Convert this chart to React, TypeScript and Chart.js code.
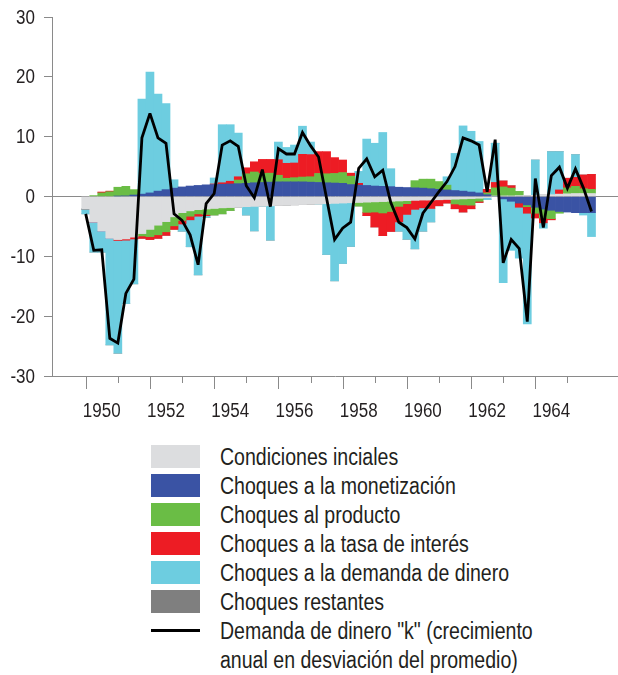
import React, { useEffect, useRef } from 'react';
import { Chart, registerables } from 'chart.js';
Chart.register(...registerables);

// ---- categories ----
const years = [1950, 1951, 1952, 1953, 1954, 1955, 1956, 1957, 1958, 1959, 1960, 1961, 1962, 1963, 1964, 1965];
const quarterNames = ['T1', 'T2', 'T3', 'T4'];
const periods = years.flatMap((y) => quarterNames.map((q) => `${y}-${q}`));
const labelYears = ['1950', '1952', '1954', '1956', '1958', '1960', '1962', '1964'];
const yTicks = [-30, -20, -10, 0, 10, 20, 30];

// ---- series (quarterly, 1950T1 .. 1965T4) ----
const condicionesIniciales = [
  -2.1, -4.3, -5.8, -7.0, -7.2, -7.1, -6.8, -6.2, -5.5, -4.8,
  -4.2, -3.4, -2.7, -2.4, -2.2, -2.1, -2.0, -1.9, -1.85, -1.8,
  -1.7, -1.65, -1.6, -1.55, -1.5, -1.45, -1.4, -1.35, -1.3, -1.25,
  -1.2, -1.15, -1.1, -1.05, -1.0, -0.95, -0.9, -0.85, -0.8, -0.75,
  -0.7, -0.65, -0.6, -0.6, -0.55, -0.5, -0.45, -0.4, -0.35, -0.3,
  -0.2, 0.05, 0.1, 0.1, 0.15, 0.15, 0.2, 0.25, 0.3, 0.4,
  0.45, 0.5, 0.5, 0.5,
];
const monetizacion = [
  0, 0, 0, 0, 0.05, 0.1, 0.25, 0.4, 0.6, 0.9,
  1.15, 1.4, 1.6, 1.75, 1.85, 1.95, 2.0, 2.05, 2.1, 2.15,
  2.2, 2.3, 2.35, 2.4, 2.45, 2.45, 2.45, 2.45, 2.4, 2.35,
  2.3, 2.25, 2.2, 2.0, 1.9, 1.85, 1.75, 1.7, 1.65, 1.55,
  1.5, 1.45, 1.4, 1.3, 1.2, 1.1, 1.0, 0.9, 0.75, 0.6,
  0.3, 0.0, -0.4, -0.8, -1.1, -1.4, -1.8, -2.1, -2.3, -2.5,
  -2.6, -2.7, -2.7, -2.7,
];
const producto = [
  0, 0.15, 0.6, 0.8, 1.5, 1.6, 0.9, -0.4, -1.2, -1.6,
  -1.7, -1.5, -1.3, -0.9, -0.7, -0.9, -1.1, -1.0, -0.5, 0.6,
  1.6, 1.8, 1.5, 1.5, 1.1, 0.6, 0.7, 0.8, 0.9, 1.5,
  1.5, 1.6, 1.8, 1.4, -0.6, -1.7, -1.7, -1.9, -1.7, -0.9,
  -0.5, 1.2, 1.5, 1.6, 1.3, 0.8, -0.8, -1.0, -1.1, -0.5,
  0.3, 1.4, 1.5, 1.3, 0.7, -0.3, -1.0, -1.5, -1.4, -0.3,
  1.0, 1.2, 0.8, 0.7,
];
const tasaInteres = [
  0, 0, 0.15, 0.1, -0.15, -0.2, -0.3, -0.4, -0.5, -0.6,
  -0.6, -0.6, -0.6, -0.6, -0.4, -0.2, 0.1, 0.25, 0.45, 0.55,
  1.0, 1.7, 2.35, 2.3, 2.6, 2.5, 2.45, 3.8, 3.7, 3.65,
  3.7, 2.65, 2.1, 0.5, 0.3, -0.55, -2.5, -3.8, -3.35, -2.6,
  -1.8, -1.5, -1.3, -1.4, -1.0, -0.6, -0.8, -1.2, -0.6, -0.2,
  0.6, 0.9, 1.0, 0.4, -0.7, -1.1, -0.8, -0.8, -0.2, 0.7,
  1.6, 1.5, 2.3, 2.5,
];
const demandaDinero = [
  -0.8, -5.0, -3.5, -17.8, -18.85, -10.6, -7.5, 15.9, 20.2, 16.2,
  14.4, 1.4, -1.2, -4.5, -9.8, -0.3, 1.0, 9.7, 9.45, 7.3,
  -1.4, -4.1, 0, -5.75, 2.95, 2.65, 3.0, 4.7, 2.1, 0,
  -8.5, -12.95, -10.1, -7.3, 2.0, 7.75, 7.15, 9.0, 3.0, -1.55,
  -4.15, -6.6, -3.9, -2.25, 0, 1.4, 6.2, 10.9, 10.15, 8.6,
  -0.3, 6.55, -14.0, -8.2, -8.5, -18.5, 5.9, -0.9, 7.2, 6.4,
  0, 3.8, -0.4, -4.0,
];
const restantes = [
  0, 0, 0, 0, 0, 0, 0, 0, 0, 0,
  0, 0, 0, 0, 0, 0, 0, 0, 0, 0,
  0, 0, 0, 0, 0, 0, 0, 0, 0, 0,
  0, 0, 0, 0, 0, 0, 0, 0, 0, 0,
  0, 0, 0, 0, 0, 0, 0, 0, 0, 0,
  0, 0, 0, 0, 0, 0, 0, 0, 0, 0,
  0, 0, 0, 0,
];
const demandaK = [
  -2.9, -9.0, -8.9, -23.7, -24.5, -16.2, -13.8, 9.8, 13.9, 9.8,
  8.9, -2.9, -4.0, -6.4, -11.4, -1.2, 0.5, 8.6, 9.3, 8.4,
  1.8, -0.2, 4.5, -1.7, 8.0, 7.1, 7.1, 10.7, 8.5, 6.6,
  -0.3, -7.2, -5.3, -4.3, 4.7, 6.3, 3.3, 4.4, -1.0, -4.3,
  -5.2, -7.1, -2.8, -1.0, 0.8, 2.5, 5.0, 9.8, 9.3, 8.6,
  0.8, 9.5, -11.1, -7.2, -8.7, -20.9, 3.0, -5.2, 3.5, 4.9,
  1.4, 4.6, 1.4, -2.5,
];

const seriesLabels = [
  'Condiciones inciales',
  'Choques a la monetización',
  'Choques al producto',
  'Choques a la tasa de interés',
  'Choques a la demanda de dinero',
  'Choques restantes',
];
const lineLabel = ['Demanda de dinero "k" (crecimiento', 'anual en desviación del promedio)'];
const seriesData = [condicionesIniciales, monetizacion, producto, tasaInteres, demandaDinero, restantes];
const seriesColors = ['#dcdddf', '#3a53a4', '#6abd45', '#ed1c24', '#6dcde0', '#7f7f7f'];

const AXIS = '#8a8a8a';
const TEXT = '#231f20';
const FAMILY = '"Liberation Sans", Arial, sans-serif';
const SQUEEZE = 0.85;

export default function App() {
  const ref = useRef<HTMLCanvasElement>(null);

  useEffect(() => {
    if (!ref.current) return;
    const tickFont = `20px ${FAMILY}`;

    const miterPlugin = {
      id: 'miterLimit',
      beforeDatasetsDraw(chart: any) {
        chart.ctx.miterLimit = 3;
      },
    };

    const axisTextPlugin = {
      id: 'axisText',
      afterDraw(chart: any) {
        const { ctx, chartArea } = chart;
        const x = chart.scales.x;
        const y = chart.scales.y;
        ctx.save();
        ctx.strokeStyle = AXIS;
        ctx.lineWidth = 1;
        years.forEach((yr, k) => {
          const idx = periods.indexOf(`${yr}-T1`);
          const px = Math.round(x.getPixelForValue(idx)) + 0.5;
          const len = k % 2 === 0 ? 13 : 7;
          ctx.beginPath();
          ctx.moveTo(px, chartArea.bottom);
          ctx.lineTo(px, chartArea.bottom + len);
          ctx.stroke();
        });
        ctx.fillStyle = TEXT;
        ctx.font = tickFont;
        ctx.textBaseline = 'alphabetic';
        ctx.textAlign = 'center';
        labelYears.forEach((lbl) => {
          const idx = periods.indexOf(`${lbl}-T3`);
          ctx.save();
          ctx.translate(x.getPixelForValue(idx), chartArea.bottom + 41);
          ctx.scale(SQUEEZE, 1);
          ctx.fillText(lbl, 0, 0);
          ctx.restore();
        });
        ctx.textAlign = 'right';
        ctx.textBaseline = 'middle';
        yTicks.forEach((v) => {
          ctx.save();
          ctx.translate(y.left + 35, y.getPixelForValue(v) + 1);
          ctx.scale(SQUEEZE, 1);
          ctx.fillText(String(v), 0, 0);
          ctx.restore();
        });
        ctx.restore();
      },
    };

    const barSets = seriesData.map((arr, k) => ({
      type: 'bar' as const,
      label: seriesLabels[k],
      data: periods.map((p, i) => ({ x: i, y: arr[i] })),
      backgroundColor: seriesColors[k],
      borderWidth: 0,
      barPercentage: 1,
      categoryPercentage: 1,
      stack: 'bars',
      order: 1,
    }));

    const chart = new Chart(ref.current, {
      type: 'bar',
      data: {
        datasets: [
          ...barSets,
          {
            type: 'line' as const,
            label: lineLabel.join(' '),
            data: periods.map((p, i) => ({ x: i, y: demandaK[i] })),
            borderColor: '#000000',
            borderWidth: 2.8,
            pointRadius: 0,
            tension: 0,
            borderJoinStyle: 'miter',
            stack: 'line',
            order: 0,
          } as any,
        ],
      },
      options: {
        animation: false,
        responsive: false,
        devicePixelRatio: 1,
        layout: { padding: { top: 17, right: 0, bottom: 64, left: 0 } },
        plugins: { legend: { display: false }, tooltip: { enabled: false } },
        scales: {
          x: {
            type: 'linear',
            min: -4.2,
            max: 66.3,
            offset: false,
            stacked: true,
            grid: { display: true, color: 'rgba(0,0,0,0)', drawTicks: false, offset: false },
            border: { display: true, color: AXIS, width: 1 },
            ticks: { display: false },
          },
          y: {
            stacked: true,
            min: -30,
            max: 30,
            afterBuildTicks: (scale: any) => {
              scale.ticks = yTicks.map((v) => ({ value: v }));
            },
            afterFit: (scale: any) => {
              scale.width = 52;
            },
            ticks: { display: false },
            grid: {
              drawOnChartArea: true,
              color: (ctx: any) => (ctx.tick && ctx.tick.value === 0 ? AXIS : 'rgba(0,0,0,0)'),
              tickColor: AXIS,
              tickLength: 8,
            },
            border: { display: true, color: AXIS, width: 1 },
          },
        },
      } as any,
      plugins: [miterPlugin, axisTextPlugin],
    });
    return () => chart.destroy();
  }, []);

  const textStyle: React.CSSProperties = {
    position: 'absolute',
    left: 220,
    fontFamily: FAMILY,
    fontSize: 23,
    lineHeight: '29px',
    color: TEXT,
    whiteSpace: 'nowrap',
    transformOrigin: 'left top',
    transform: `scaleX(${SQUEEZE})`,
  };

  return (
    <div style={{ position: 'absolute', left: 0, top: 0, width: 618, height: 675, background: '#ffffff', overflow: 'hidden' }}>
      <canvas ref={ref} width={618} height={440} style={{ position: 'absolute', left: 0, top: 0, width: 618, height: 440 }} />
      {seriesLabels.map((lbl, k) => (
        <React.Fragment key={lbl}>
          <div style={{ position: 'absolute', left: 151, top: 445 + 29 * k, width: 49, height: 23, background: seriesColors[k] }} />
          <div style={{ ...textStyle, top: 442.5 + 29 * k }}>{lbl}</div>
        </React.Fragment>
      ))}
      <div style={{ position: 'absolute', left: 151, top: 445 + 29 * 6 + 10, width: 49, height: 3, background: '#000' }} />
      <div style={{ ...textStyle, top: 442.5 + 29 * 6 }}>
        {lineLabel[0]}
        <br />
        {lineLabel[1]}
      </div>
    </div>
  );
}
